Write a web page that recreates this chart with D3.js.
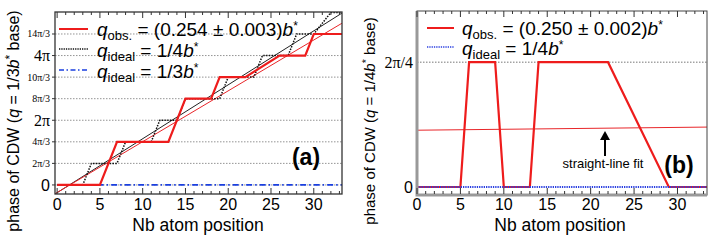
<!DOCTYPE html>
<html lang="en">
<head>
<meta charset="UTF-8">
<title>CDW phase</title>
<script src="https://d3js.org/d3.v7.min.js"></script>
<style>
  body { margin: 0; background: #fff; }
  text { font-family: "Liberation Sans", Arial, sans-serif; }
  .serif { font-family: "Liberation Serif", "DejaVu Serif", serif; }
</style>
</head>
<body>
<div class="main"></div>
<script>
  // ---- data (phase in units of 2pi/3 for panel a, 2pi/4 for panel b) ----
  var xTicks = [0, 5, 10, 15, 20, 25, 30];
  var yTicksA = [0, 1, 2, 3, 4, 5, 6, 7];
  var yLabelsA = ["0", "2π/3", "4π/3", "2π", "8π/3", "10π/3", "4π", "14π/3"];
  var obsStepA = [[0, 0], [5, 0], [7, 2], [13, 2], [15, 4], [18, 4], [19, 5], [22, 5], [26, 6], [29, 6], [30, 7], [33.3, 7]];
  var idealStepA = [[0, 0], [3, 0], [4, 1], [7, 1], [8, 2], [11, 2], [12, 3], [14, 3], [15, 4], [19, 4], [20, 5], [23, 5], [24, 6], [27, 6], [28, 7], [30, 7], [32, 8], [33.3, 8]];
  var idealLineA = [[-0.25, -0.42], [33.3, 7.97]];
  var fitLineA = [[-0.25, -0.41], [33.3, 7.5]];
  var thirdLineA = [[0, 0], [33.3, 0]];

  var yTicksB = [0, 1];
  var yLabelsB = ["0", "2π/4"];
  var obsStepB = [[0, 0], [5, 0], [6, 1], [9, 1], [10, 0], [13, 0], [14, 1], [22, 1], [29, 0], [33.4, 0]];
  var fitLineB = [[0, 0.455], [33.4, 0.48]];
  var quarterLineB = [[0, 0], [33.4, 0]];

  var width = 715, height = 240;
  var svg = d3.select(".main").append("svg")
    .attr("width", width).attr("height", height);

  var line = function (x, y) {
    return d3.line().x(function (d) { return x(d[0]); }).y(function (d) { return y(d[1]); });
  };

  function legendText(g, x, y, sub, rest) {
    var t = g.append("text").attr("x", x).attr("y", y).style("font-size", "19px");
    t.append("tspan").style("font-style", "italic").text("q");
    t.append("tspan").attr("dy", 4).style("font-size", "13px").text(sub);
    t.append("tspan").attr("dy", -4).text(rest);
    t.append("tspan").style("font-style", "italic").text("b");
    t.append("tspan").attr("dy", -6).style("font-size", "12px").text("*");
  }

  function yLabel(x, y, base, size) {
    var t = svg.append("text")
      .attr("transform", "translate(" + x + "," + y + ") rotate(-90)")
      .attr("text-anchor", "middle").style("font-size", size + "px");
    t.append("tspan").text("phase of CDW (");
    t.append("tspan").style("font-style", "italic").text("q");
    t.append("tspan").text(" = " + base);
    t.append("tspan").style("font-style", "italic").text("b");
    t.append("tspan").attr("dy", -5).style("font-size", (size - 4) + "px").text("*");
    t.append("tspan").attr("dy", 5).text(" base)");
  }

  function xTickMarks(g, x, y0, y1, domainMax) {
    // inward major and minor ticks on bottom and top
    var minor = d3.range(0, Math.floor(domainMax) + 1);
    minor.forEach(function (v) {
      var len = v % 5 === 0 ? 6 : 3;
      g.append("line").attr("x1", x(v)).attr("x2", x(v)).attr("y1", y0).attr("y2", y0 - len)
        .attr("stroke", "#333").attr("stroke-width", 1);
      g.append("line").attr("x1", x(v)).attr("x2", x(v)).attr("y1", y1).attr("y2", y1 + len)
        .attr("stroke", "#333").attr("stroke-width", 1);
    });
    xTicks.forEach(function (v) {
      g.append("text").attr("x", x(v)).attr("y", y0 + 16).attr("text-anchor", "middle")
        .style("font-size", "16px").text(v);
    });
  }

  // ================= panel (a) =================
  var xA = d3.scaleLinear().domain([-0.25, 33.3]).range([55, 342]);
  var yA = d3.scaleLinear().domain([-0.42, 8.02]).range([194, 12]);
  var gA = svg.append("g");

  gA.selectAll(".grid").data(yTicksA).join("line")
    .attr("x1", xA.range()[0]).attr("x2", xA.range()[1])
    .attr("y1", function (d) { return yA(d); }).attr("y2", function (d) { return yA(d); })
    .attr("stroke", "#888").attr("stroke-width", 0.9).attr("stroke-dasharray", "1.5,1.5");

  gA.selectAll(".ylab").data(yTicksA).join("text")
    .attr("class", "serif")
    .attr("x", 50).attr("y", function (d) { return yA(d); })
    .attr("dy", "0.35em").attr("text-anchor", "end")
    .style("font-size", function (d, i) { return (i % 3 === 0) ? "16px" : "10px"; })
    .style("font-family", function (d, i) { return i === 0 ? "'Liberation Sans', Arial, sans-serif" : null; })
    .text(function (d, i) { return yLabelsA[i]; });

  gA.selectAll(".ytick").data(yTicksA).join("line")
    .attr("x1", 52).attr("x2", 55)
    .attr("y1", function (d) { return yA(d); }).attr("y2", function (d) { return yA(d); })
    .attr("stroke", "#333");

  svg.append("clipPath").attr("id", "clipA").append("rect")
    .attr("x", 55).attr("y", 12).attr("width", 287).attr("height", 182);
  var plotA = gA.append("g").attr("clip-path", "url(#clipA)");

  plotA.append("path").datum(thirdLineA).attr("d", line(xA, yA))
    .attr("fill", "none").attr("stroke", "#1a3fe0").attr("stroke-width", 1.8)
    .attr("stroke-dasharray", "6,3,1.5,3");
  plotA.append("path").datum(idealLineA).attr("d", line(xA, yA))
    .attr("fill", "none").attr("stroke", "#222").attr("stroke-width", 1);
  plotA.append("path").datum(fitLineA).attr("d", line(xA, yA))
    .attr("fill", "none").attr("stroke", "#e8262a").attr("stroke-width", 1);
  plotA.append("path").datum(idealStepA).attr("d", line(xA, yA))
    .attr("fill", "none").attr("stroke", "#111").attr("stroke-width", 1.5)
    .attr("stroke-dasharray", "1.5,1.3");
  plotA.append("path").datum(obsStepA).attr("d", line(xA, yA))
    .attr("fill", "none").attr("stroke", "#ee1c1c").attr("stroke-width", 2.2);

  gA.append("rect").attr("x", 55).attr("y", 12).attr("width", 287).attr("height", 182)
    .attr("fill", "none").attr("stroke", "#333").attr("stroke-width", 1.3);
  xTickMarks(gA, xA, 194, 12, 33.3);

  // legend (a)
  gA.append("line").attr("x1", 59).attr("x2", 88).attr("y1", 29).attr("y2", 29)
    .attr("stroke", "#ee1c1c").attr("stroke-width", 2);
  gA.append("line").attr("x1", 59).attr("x2", 88).attr("y1", 49).attr("y2", 49)
    .attr("stroke", "#111").attr("stroke-width", 1.3).attr("stroke-dasharray", "1.3,1");
  gA.append("line").attr("x1", 59).attr("x2", 88).attr("y1", 70).attr("y2", 70)
    .attr("stroke", "#1a3fe0").attr("stroke-width", 1.6).attr("stroke-dasharray", "5,2.5,1.5,2.5");
  legendText(gA, 97, 36, "obs.", " = (0.254 ± 0.003)");
  legendText(gA, 97, 57, "ideal", " = 1/4");
  legendText(gA, 97, 78, "ideal", " = 1/3");

  gA.append("text").attr("x", 306).attr("y", 165).attr("text-anchor", "middle")
    .style("font-size", "23px").style("font-weight", "bold").text("(a)");
  gA.append("text").attr("x", 198).attr("y", 231).attr("text-anchor", "middle")
    .style("font-size", "17.5px").text("Nb atom position");
  yLabel(19, 121, "1/3", 16);

  // ================= panel (b) =================
  var xB = d3.scaleLinear().domain([0, 33.4]).range([417, 707]);
  var yB = d3.scaleLinear().domain([-0.064, 1.41]).range([195, 11]);
  var gB = svg.append("g");

  gB.append("line").attr("x1", xB.range()[0]).attr("x2", xB.range()[1])
    .attr("y1", yB(1)).attr("y2", yB(1))
    .attr("stroke", "#666").attr("stroke-width", 0.9).attr("stroke-dasharray", "1.5,1.5");

  gB.selectAll(".ylab").data(yTicksB).join("text")
    .attr("x", 413).attr("y", function (d) { return yB(d); })
    .attr("dy", "0.35em").attr("text-anchor", "end")
    .style("font-size", "16px")
    .style("font-family", function (d, i) { return i === 0 ? null : "'Liberation Serif', serif"; })
    .text(function (d, i) { return yLabelsB[i]; });

  svg.append("clipPath").attr("id", "clipB").append("rect")
    .attr("x", 417).attr("y", 11).attr("width", 290).attr("height", 184);
  var plotB = gB.append("g").attr("clip-path", "url(#clipB)");

  plotB.append("path").datum(fitLineB).attr("d", line(xB, yB))
    .attr("fill", "none").attr("stroke", "#e8262a").attr("stroke-width", 1);
  plotB.append("path").datum(obsStepB).attr("d", line(xB, yB))
    .attr("fill", "none").attr("stroke", "#ee1c1c").attr("stroke-width", 2.2);
  plotB.append("path").datum(quarterLineB).attr("d", line(xB, yB))
    .attr("fill", "none").attr("stroke", "#2a3fe0").attr("stroke-width", 2)
    .attr("stroke-dasharray", "1.3,1");

  // frame: thin top/right, thick gray left/bottom
  gB.append("rect").attr("x", 417).attr("y", 11).attr("width", 290).attr("height", 184)
    .attr("fill", "none").attr("stroke", "#444").attr("stroke-width", 1);
  gB.append("path").attr("d", "M417,11V195H707")
    .attr("fill", "none").attr("stroke", "#999").attr("stroke-width", 3);
  xTickMarks(gB, xB, 194, 11, 33.4);

  // legend (b)
  gB.append("line").attr("x1", 427).attr("x2", 454).attr("y1", 28).attr("y2", 28)
    .attr("stroke", "#ee1c1c").attr("stroke-width", 2);
  gB.append("line").attr("x1", 427).attr("x2", 454).attr("y1", 47).attr("y2", 47)
    .attr("stroke", "#2a3fe0").attr("stroke-width", 1.6).attr("stroke-dasharray", "1.3,1");
  legendText(gB, 462, 35, "obs.", " = (0.250 ± 0.002)");
  legendText(gB, 462, 55, "ideal", " = 1/4");

  // annotation
  gB.append("line").attr("x1", 605).attr("x2", 605).attr("y1", 156).attr("y2", 139)
    .attr("stroke", "#000").attr("stroke-width", 2);
  gB.append("path").attr("d", "M600,140L605,131L610,140Z").attr("fill", "#000");
  gB.append("text").attr("x", 603).attr("y", 168).attr("text-anchor", "middle")
    .style("font-size", "13px").text("straight-line fit");
  gB.append("text").attr("x", 679).attr("y", 173).attr("text-anchor", "middle")
    .style("font-size", "23px").style("font-weight", "bold").text("(b)");
  gB.append("text").attr("x", 560).attr("y", 231).attr("text-anchor", "middle")
    .style("font-size", "17.5px").text("Nb atom position");
  yLabel(375, 121, "1/4", 15);
</script>
</body>
</html>
